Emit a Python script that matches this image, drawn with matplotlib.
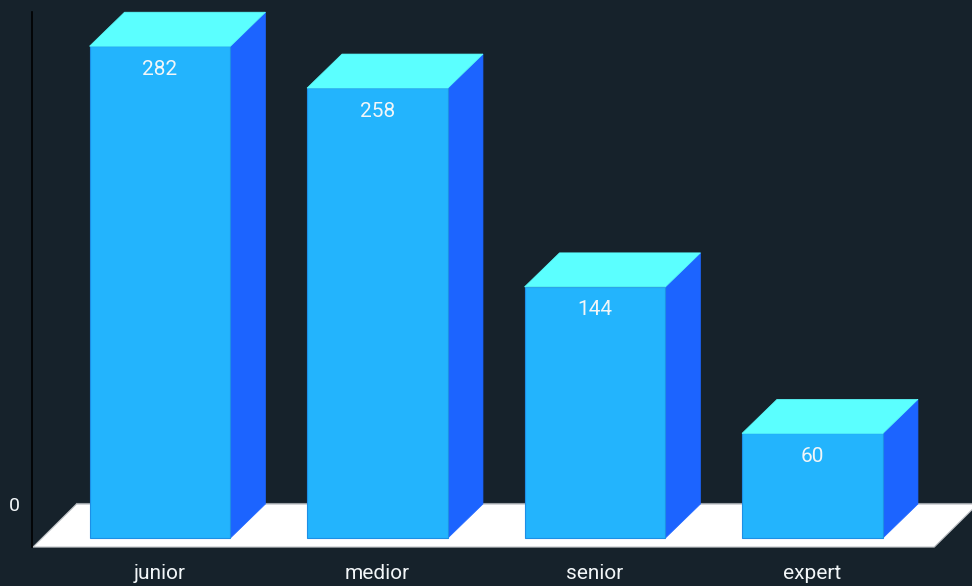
import numpy as np
import matplotlib as mpl
mpl.use('Agg')
import matplotlib.pyplot as plt
from matplotlib.patches import Polygon

categories = ["junior", "medior", "senior", "expert"]
values = [282, 258, 144, 60]

bg = '#16222b'
front_col = '#23b4fd'
top_col = '#5bffff'
side_col = '#1c64ff'
edge_col = '#1d8fe6'
text_col = '#f2f6f8'

plt.rcParams['font.family'] = ['Roboto', 'DejaVu Sans']

fig = plt.figure(figsize=(9.72, 5.86), dpi=100, facecolor=bg)
ax = fig.add_axes([0, 0, 1, 1])
ax.set_facecolor(bg)
ax.set_axis_off()

# pixel -> data scale: 217.5 px per category, 1.744 px per unit
ax.set_xlim(-160 / 217.5, (972 - 160) / 217.5)
ax.set_ylim(-48 / 1.744, (586 - 48) / 1.744)

bar_w = 0.648
dx = 35 / 217.5   # depth offset along x
dy = 34 / 1.744   # depth offset along y
index = np.arange(len(values))

# floor
fl_front, fl_back = -5.2, dy
fx0, fx1 = -0.584, 3.56
floor = Polygon([(fx0, fl_front), (fx1, fl_front), (fx1 + 0.2, fl_back),
                 (fx0 + 0.2, fl_back)], closed=True, facecolor='white',
                edgecolor='#b8bcc0', linewidth=0.8, zorder=1)
ax.add_patch(floor)
ax.plot([fx0 + 0.2, 4.0], [fl_back + 0.8, fl_back + 0.8], color='#9aa0a6', lw=0.8, zorder=1)

# value axis line
ax.plot([-0.5885, -0.5885], [fl_front, 301.6], color='black', lw=1.2, zorder=2)
ax.text(-0.67, fl_back - 1, "0", color=text_col, fontsize=14, ha='center', va='center')

rects = ax.bar(index, values, bar_w, color=front_col, edgecolor=edge_col,
               linewidth=0.8, zorder=3)
for rect, v in zip(rects, values):
    x0 = rect.get_x()
    x1 = x0 + rect.get_width()
    top = Polygon([(x0, v), (x1, v), (x1 + dx, v + dy), (x0 + dx, v + dy)],
                  closed=True, facecolor=top_col, edgecolor=top_col, lw=0.5, zorder=3)
    side = Polygon([(x1, 0), (x1 + dx, dy), (x1 + dx, v + dy), (x1, v)],
                   closed=True, facecolor=side_col, edgecolor=side_col, lw=0.5, zorder=2.5)
    ax.add_patch(side)
    ax.add_patch(top)
    ax.annotate(str(v), (rect.get_x() + rect.get_width() / 2, v), xytext=(0, -23),
                textcoords='offset pixels', ha='center', va='center',
                color=text_col, fontsize=15, zorder=4)

for i, c in enumerate(categories):
    ax.annotate(c, (i, fl_front), xytext=(0, -26), textcoords='offset pixels',
                ha='center', va='center', color=text_col, fontsize=15)

fig.savefig("out.png", dpi=100, facecolor=bg)
